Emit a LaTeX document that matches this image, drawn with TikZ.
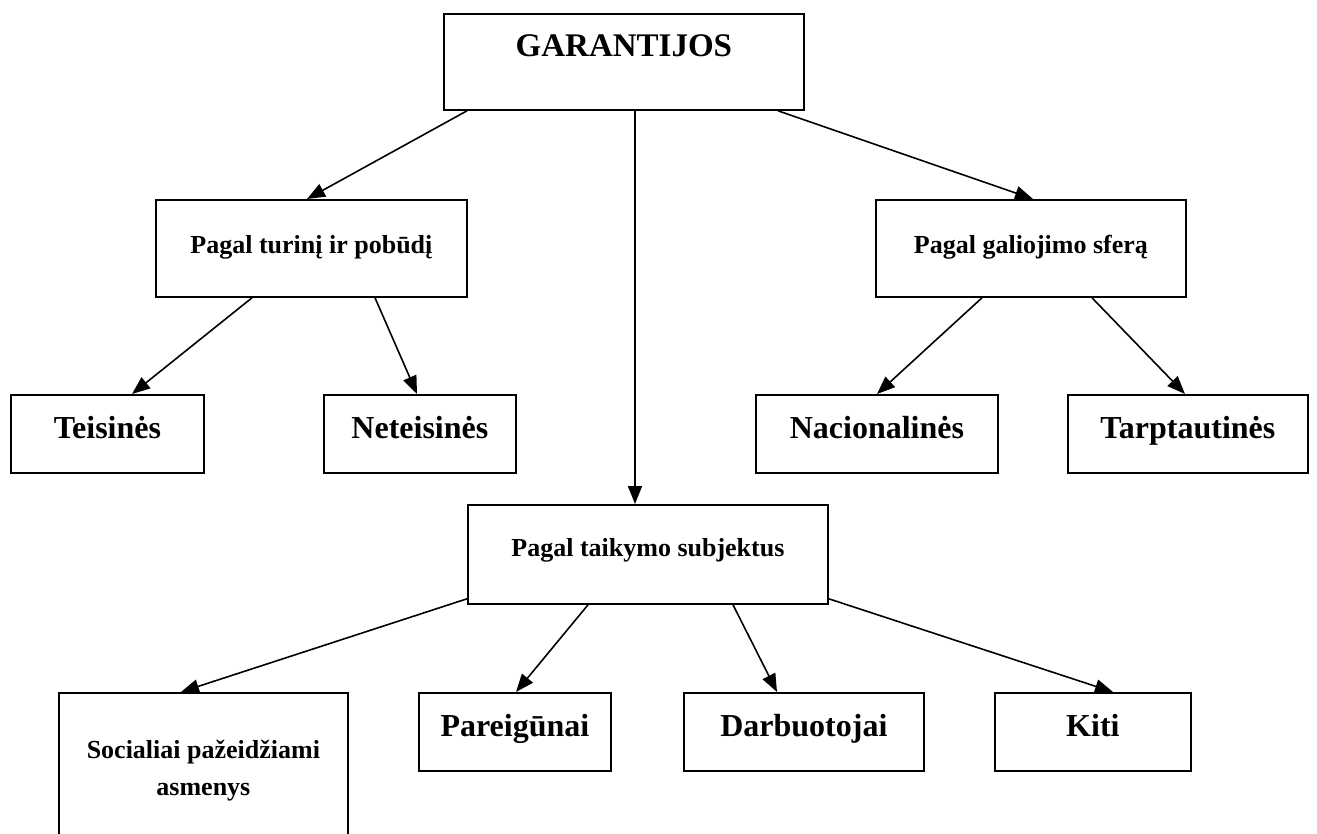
\documentclass[tikz,border=0pt]{standalone}
\usepackage{fontspec}
\setmainfont{Liberation Serif}
\usetikzlibrary{arrows.meta}
\begin{document}
\begin{tikzpicture}[x=1pt,y=-1pt,
  box/.style={draw, line width=1.8pt, inner xsep=0pt, inner ysep=0pt, anchor=north west, align=center},
  huge/.style={font=\fontsize{33}{40}\selectfont\bfseries},
  big/.style={font=\fontsize{32}{38}\selectfont\bfseries},
  mid/.style={font=\fontsize{26}{37}\selectfont\bfseries},
  conn/.style={line width=1.6pt, -{Triangle[length=18pt,width=14pt]}}]
\useasboundingbox (0,0) rectangle (1317,834);
\fill[white] (0,0) rectangle (1317,834);
\clip (0,0) rectangle (1317,834);
% top
\node[box, huge, minimum width=360pt, text height=43pt, text depth=53pt] (gar) at (443,13) {GARANTIJOS};
% second level
\node[box, mid, minimum width=311pt, text height=54pt, text depth=43pt] (tur) at (155,199) {Pagal turinį ir pobūdį};
\node[box, mid, minimum width=310pt, text height=54pt, text depth=43pt] (gal) at (875,199) {Pagal galiojimo sferą};
% third level
\node[box, big, minimum width=193pt, text height=44pt, text depth=34pt] (tei) at (10,394) {Teisinės};
\node[box, big, minimum width=192pt, text height=44pt, text depth=34pt] (net) at (323,394) {Neteisinės};
\node[box, big, minimum width=242pt, text height=44pt, text depth=34pt] (nac) at (755,394) {Nacionalinės};
\node[box, big, minimum width=240pt, text height=44pt, text depth=34pt] (tar) at (1067,394) {Tarptautinės};
% middle
\node[box, mid, minimum width=360pt, text height=52pt, text depth=47pt] (tai) at (467,504) {Pagal taikymo subjektus};
% bottom
\node[box, minimum width=289pt, minimum height=220pt] (soc) at (58,692) {};
\node[mid, align=center, anchor=base, inner sep=0pt] (soctxt) at ([yshift=-103pt]soc.north) {Socialiai pažeidžiami\\asmenys};
\node[box, big, minimum width=192pt, text height=44pt, text depth=34pt] (par) at (418,692) {Pareigūnai};
\node[box, big, minimum width=240pt, text height=44pt, text depth=34pt] (dar) at (683,692) {Darbuotojai};
\node[box, big, minimum width=196pt, text height=44pt, text depth=34pt] (kit) at (994,692) {Kiti};
% connectors
\draw[conn] ([xshift=24pt]gar.south west) -- ([xshift=152pt]tur.north west);
\draw[conn] ([xshift=192pt]gar.south west) -- ([xshift=168pt]tai.north west);
\draw[conn] ([xshift=335pt]gar.south west) -- ([xshift=158pt]gal.north west);
\draw[conn] ([xshift=97pt]tur.south west) -- ([xshift=122pt]tei.north west);
\draw[conn] ([xshift=220pt]tur.south west) -- ([xshift=94pt]net.north west);
\draw[conn] ([xshift=107pt]gal.south west) -- ([xshift=122pt]nac.north west);
\draw[conn] ([xshift=217pt]gal.south west) -- ([xshift=118pt]tar.north west);
\draw[conn] ([yshift=6pt]tai.south west) -- ([xshift=123pt]soc.north west);
\draw[conn] ([xshift=121pt]tai.south west) -- ([xshift=98pt]par.north west);
\draw[conn] ([xshift=266pt]tai.south west) -- ([xshift=94pt]dar.north west);
\draw[conn] ([yshift=6pt]tai.south east) -- ([xshift=119pt]kit.north west);
\end{tikzpicture}
\end{document}
